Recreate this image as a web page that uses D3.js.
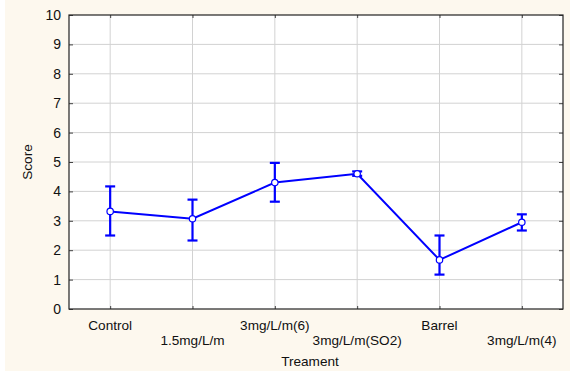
<!DOCTYPE html>
<html lang="en">
<head>
<meta charset="UTF-8">
<title>Score by Treament</title>
<style>
body { margin: 0; background: #fff; }
text.lbl { font-family: "Liberation Sans", Arial, sans-serif; font-size: 13.6px; fill: #111; }
.grid line { stroke: #d2d2d2; stroke-width: 1; }
.line { fill: none; stroke: #0000ff; stroke-width: 2px; }
</style>
</head>
<body>
<script src="https://cdn.jsdelivr.net/npm/d3@7/dist/d3.min.js"></script>
<script>
var categories = ["Control", "1.5mg/L/m", "3mg/L/m(6)", "3mg/L/m(SO2)", "Barrel", "3mg/L/m(4)"];
var means = [3.32, 3.07, 4.3, 4.6, 1.67, 2.95];
var upper = [4.17, 3.72, 4.97, 4.68, 2.5, 3.22];
var lower = [2.5, 2.33, 3.65, 4.53, 1.17, 2.67];
var yTicks = [0, 1, 2, 3, 4, 5, 6, 7, 8, 9, 10];

var W = 570, H = 373;
var margin = { top: 15, right: 7, bottom: 64, left: 69 },
    width = W - margin.left - margin.right,
    height = H - margin.top - margin.bottom;

var svg = d3.select("body").append("svg")
    .attr("width", W)
    .attr("height", H);

svg.append("rect")
    .attr("x", 5).attr("y", 0)
    .attr("width", W - 5).attr("height", H - 2)
    .attr("fill", "#fdf8ee");

var g = svg.append("g")
    .attr("transform", "translate(" + margin.left + "," + margin.top + ")");

var x = d3.scalePoint().domain(categories).range([0, width]).padding(0.5);
var y = d3.scaleLinear().domain([0, 10]).range([height, 0]);

g.append("rect")
    .attr("width", width).attr("height", height)
    .attr("fill", "#fff");

// grid
var grid = g.append("g").attr("class", "grid");
grid.selectAll(".hg").data(yTicks.slice(1, -1)).enter().append("line")
    .attr("x1", 0).attr("x2", width)
    .attr("y1", function(d) { return y(d); })
    .attr("y2", function(d) { return y(d); });
grid.selectAll(".vg").data(categories).enter().append("line")
    .attr("x1", function(d) { return x(d); })
    .attr("x2", function(d) { return x(d); })
    .attr("y1", 0).attr("y2", height);

// inward ticks on all four sides
function inward(a) { a.select(".domain").remove(); a.selectAll("line").attr("stroke", "#444"); }
g.append("g")
    .attr("transform", "translate(" + width + ",0)")
    .call(d3.axisLeft(y).tickValues(yTicks).tickSize(4).tickFormat(""))
    .call(inward);
g.append("g")
    .call(d3.axisRight(y).tickValues(yTicks).tickSize(4).tickFormat(""))
    .call(inward);
g.append("g")
    .call(d3.axisBottom(x).tickSize(3).tickFormat(""))
    .call(inward);
g.append("g")
    .attr("transform", "translate(0," + height + ")")
    .call(d3.axisTop(x).tickSize(3).tickFormat(""))
    .call(inward);

g.append("rect")
    .attr("width", width).attr("height", height)
    .attr("fill", "none").attr("stroke", "#222").attr("stroke-width", 1.2);

// y tick labels
g.selectAll(".yl").data(yTicks).enter().append("text")
    .attr("class", "lbl")
    .attr("x", -8)
    .attr("y", function(d) { return y(d); })
    .attr("dy", "0.35em")
    .attr("text-anchor", "end")
    .style("font-size", "14px")
    .text(function(d) { return d; });

// staggered category labels
g.selectAll(".xl").data(categories).enter().append("text")
    .attr("class", "lbl")
    .attr("x", function(d) { return x(d); })
    .attr("y", function(d, i) { return height + (i % 2 === 0 ? 21 : 36); })
    .attr("text-anchor", "middle")
    .text(function(d) { return d; });

g.append("text")
    .attr("class", "lbl")
    .attr("x", width / 2 - 6)
    .attr("y", height + 57)
    .attr("text-anchor", "middle")
    .text("Treament");

svg.append("text")
    .attr("class", "lbl")
    .attr("transform", "translate(32," + (margin.top + height / 2) + ") rotate(-90)")
    .attr("text-anchor", "middle")
    .text("Score");

// error bars
var eb = g.append("g").attr("stroke", "#0000ff").attr("stroke-width", 2.2);
categories.forEach(function(c, i) {
    var cx = x(c);
    eb.append("line").attr("x1", cx).attr("x2", cx).attr("y1", y(upper[i])).attr("y2", y(lower[i]));
    eb.append("line").attr("x1", cx - 5).attr("x2", cx + 5).attr("y1", y(upper[i])).attr("y2", y(upper[i]));
    eb.append("line").attr("x1", cx - 5).attr("x2", cx + 5).attr("y1", y(lower[i])).attr("y2", y(lower[i]));
});

var line = d3.line()
    .x(function(d, i) { return x(categories[i]); })
    .y(function(d) { return y(d); });

g.append("path")
    .datum(means)
    .attr("class", "line")
    .attr("d", line);

g.selectAll(".pt").data(means).enter().append("circle")
    .attr("cx", function(d, i) { return x(categories[i]); })
    .attr("cy", function(d) { return y(d); })
    .attr("r", 3.2)
    .attr("fill", "#fff")
    .attr("stroke", "#0000ff")
    .attr("stroke-width", 1.2);
</script>
</body>
</html>
